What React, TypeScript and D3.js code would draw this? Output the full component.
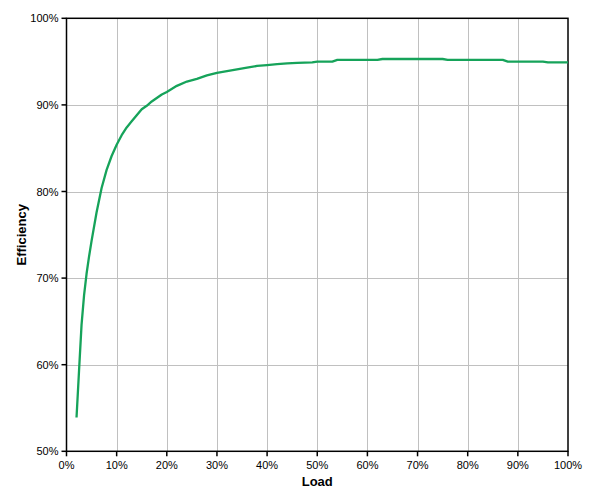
import React from "react";
import * as d3 from "d3";

const loadPct = [2, 2.5, 3, 3.5, 4, 4.5, 5, 6, 7, 8, 9, 10, 11, 12, 13, 14, 15, 16, 17, 18, 19, 20, 22, 24, 26, 28, 30, 32, 34, 36, 38, 40, 42, 44, 46, 49, 50, 53, 54, 62, 63, 75, 76, 87, 88, 95, 96, 100];
const efficiencyPct = [53.9, 59.3, 64.6, 68.0, 70.5, 72.5, 74.3, 77.6, 80.4, 82.5, 84.1, 85.4, 86.5, 87.4, 88.1, 88.8, 89.5, 89.9, 90.4, 90.8, 91.2, 91.5, 92.2, 92.7, 93.0, 93.4, 93.7, 93.9, 94.1, 94.3, 94.5, 94.6, 94.7, 94.8, 94.85, 94.9, 95.0, 95.0, 95.2, 95.2, 95.3, 95.3, 95.2, 95.2, 95.0, 95.0, 94.9, 94.9];
const xTicks = [0, 10, 20, 30, 40, 50, 60, 70, 80, 90, 100];
const yTicks = [50, 60, 70, 80, 90, 100];

export default function App() {
  const W = 601, H = 499;
  const left = 66.5, right = 568, top = 18.3, bottom = 451.3;
  const x = d3.scaleLinear().domain([0, 100]).range([left, right]);
  const y = d3.scaleLinear().domain([50, 100]).range([bottom, top]);
  const data = loadPct.map((l, i) => [l, efficiencyPct[i]] as [number, number]);
  const line = d3.line<[number, number]>().x(d => x(d[0])).y(d => y(d[1]));
  const font = "'Liberation Sans', Arial, sans-serif";
  return (
    <div style={{ position: "absolute", left: 0, top: 0 }}>
      <svg width={W} height={H} style={{ display: "block", background: "#fff" }}>
        <rect x={0} y={0} width={W} height={H} fill="#fff" />
        {xTicks.slice(1, -1).map(t => (
          <line key={"gx" + t} x1={Math.round(x(t)) + 0.5} x2={Math.round(x(t)) + 0.5} y1={top} y2={bottom} stroke="#c0c0c0" strokeWidth={1} />
        ))}
        {yTicks.slice(1, -1).map(t => (
          <line key={"gy" + t} x1={left} x2={right} y1={Math.round(y(t)) + 0.5} y2={Math.round(y(t)) + 0.5} stroke="#c0c0c0" strokeWidth={1} />
        ))}
        <rect x={left} y={top} width={right - left} height={bottom - top} fill="none" stroke="#000" strokeWidth={1.5} />
        {xTicks.map(t => (
          <g key={"xt" + t}>
            <line x1={x(t)} x2={x(t)} y1={bottom} y2={bottom + 5} stroke="#000" strokeWidth={1.5} />
            <text x={x(t)} y={bottom + 18} textAnchor="middle" fontFamily={font} fontSize={11} fill="#000">{t}%</text>
          </g>
        ))}
        {yTicks.map(t => (
          <g key={"yt" + t}>
            <line x1={left - 5} x2={left} y1={y(t)} y2={y(t)} stroke="#000" strokeWidth={1.5} />
            <text x={left - 8} y={y(t) + 4} textAnchor="end" fontFamily={font} fontSize={11} fill="#000">{t}%</text>
          </g>
        ))}
        <path d={line(data) || ""} fill="none" stroke="#16a35a" strokeWidth={2.3} strokeLinejoin="round" />
        <text x={(left + right) / 2} y={486} textAnchor="middle" fontFamily={font} fontSize={13} fontWeight="bold" fill="#000">Load</text>
        <text transform={`translate(26, ${(top + bottom) / 2}) rotate(-90)`} textAnchor="middle" fontFamily={font} fontSize={13} fontWeight="bold" fill="#000">Efficiency</text>
      </svg>
    </div>
  );
}
